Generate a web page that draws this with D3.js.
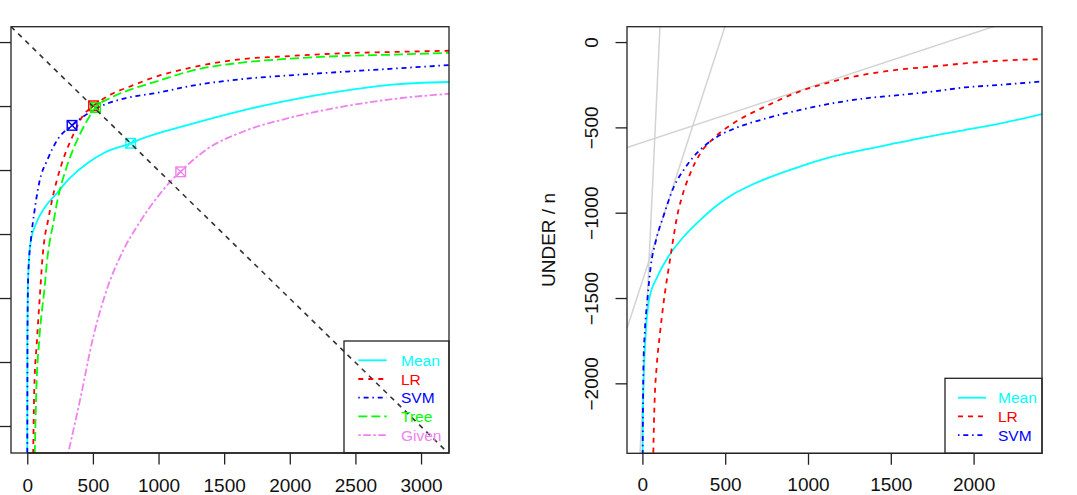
<!DOCTYPE html>
<html><head><meta charset="utf-8">
<script src="https://cdn.jsdelivr.net/npm/d3@7"></script>
<style>
body{margin:0;background:#fff}
svg{display:block}
text{font-family:"Liberation Sans",Arial,Helvetica,sans-serif}
</style>
</head><body>
<svg id="chart" width="1077" height="495"></svg>
<script>
// ---------------- DATA ----------------
const seriesNames = ["Mean", "LR", "SVM", "Tree", "Given"];
const leftXTicks = [0, 500, 1000, 1500, 2000, 2500, 3000];
const leftYTicks = [0, 500, 1000, 1500, 2000, 2500, 3000];
const rightXTicks = [0, 500, 1000, 1500, 2000];
const rightYTicks = [0, -500, -1000, -1500, -2000];
const rightYLabel = "UNDER / n";

// left panel curves
const leftMeanX = [0, 1, 4, 15, 28, 69, 130, 226, 318, 460, 587, 788, 859, 1240, 1621, 2002, 2383, 2765, 3213];
const leftMeanY = [-250, 700, 1050, 1328, 1453, 1586, 1703, 1820, 1930, 2055, 2135, 2209, 2240, 2357, 2461, 2547, 2615, 2666, 2688];
const leftLRX = [45, 53, 74, 99, 117, 130, 155, 194, 257, 346, 422, 505, 638, 790, 994, 1240, 1621, 2002, 2383, 2765, 3213];
const leftLRY = [-220, 281, 672, 1063, 1328, 1453, 1590, 1790, 2031, 2266, 2422, 2502, 2591, 2656, 2734, 2799, 2865, 2891, 2912, 2922, 2932];
const leftSVMX = [0, 2, 8, 28, 53, 91, 155, 232, 341, 554, 765, 994, 1240, 1621, 2002, 2383, 2765, 3213];
const leftSVMY = [-250, 800, 1195, 1459, 1666, 1901, 2084, 2240, 2349, 2495, 2565, 2604, 2656, 2709, 2740, 2766, 2791, 2820];
const leftTreeX = [57, 69, 91, 130, 155, 173, 194, 232, 295, 371, 447, 520, 638, 790, 994, 1240, 1621, 2002, 2383, 2765, 3213];
const leftTreeY = [-220, 281, 672, 1063, 1328, 1453, 1562, 1773, 2008, 2213, 2370, 2488, 2565, 2630, 2695, 2773, 2838, 2870, 2891, 2901, 2916];
const leftGivenX = [310, 402, 503, 605, 720, 859, 1011, 1126, 1169, 1240, 1367, 1621, 2002, 2383, 2765, 3213];
const leftGivenY = [-220, 203, 698, 1063, 1349, 1596, 1814, 1948, 1988, 2057, 2162, 2291, 2409, 2492, 2552, 2596];
// marked points on the left panel (Mean, LR, SVM, Tree, Given)
const markX = [788, 505, 341, 520, 1169];
const markY = [2209, 2502, 2349, 2488, 1986];
// reference diagonal on left panel: slope, intercept
const diagLine = [-1, 2996];

// right panel curves
const rightMeanX = [0, 2, 10, 20, 40, 90, 150, 249, 349, 449, 548, 648, 748, 947, 1147, 1346, 1545, 1745, 1945, 2144, 2413];
const rightMeanY = [-2700, -2300, -1903, -1708, -1512, -1376, -1268, -1141, -1043, -958, -892, -842, -800, -731, -672, -629, -590, -551, -516, -481, -422];
const rightLRX = [62, 66, 74, 86, 106, 130, 160, 185, 209, 239, 289, 349, 429, 548, 748, 947, 1147, 1346, 1545, 1745, 1945, 2144, 2413];
const rightLRY = [-2700, -2411, -2098, -1903, -1708, -1512, -1317, -1161, -1024, -907, -770, -653, -565, -477, -375, -290, -232, -190, -162, -144, -125, -110, -100];
const rightSVMX = [0, 3, 6, 14, 30, 50, 80, 130, 190, 249, 309, 369, 469, 548, 748, 947, 1147, 1346, 1545, 1745, 1945, 2144, 2413];
const rightSVMY = [-2700, -2200, -1903, -1708, -1512, -1317, -1170, -1012, -848, -750, -672, -614, -545, -510, -447, -399, -359, -330, -311, -291, -266, -252, -231];
// grey reference lines on right panel: [slope, intercept]
const greySlopes = [20.8, 2.99, 0.32];
const greyIntercepts = [-2115, -1400, -588];

// ---------------- STYLE ----------------
const colors = {Mean: "#00FFFF", LR: "#FF0000", SVM: "#0000FF", Tree: "#00FF00", Given: "#EE82EE"};
const dashes = {Mean: null, LR: "5,5", SVM: "1.5,3.8,5,3.8", Tree: "9,4", Given: "2.5,2.5,7.5,2.5"};
const FONT_AXIS = 19, FONT_LEG = 15.5, TICK = 11.5, LW = 1.8;

const svg = d3.select("#chart");

function panel(cfg) {
  const g = svg.append("g");
  const x = d3.scaleLinear().domain(cfg.xDomain).range([cfg.left, cfg.right]);
  const y = d3.scaleLinear().domain(cfg.yDomain).range([cfg.bottom, cfg.top]);
  const clipId = "clip" + cfg.id;
  svg.append("defs").append("clipPath").attr("id", clipId)
    .append("rect").attr("x", cfg.left).attr("y", cfg.top)
    .attr("width", cfg.right - cfg.left).attr("height", cfg.bottom - cfg.top);
  const plot = g.append("g").attr("clip-path", `url(#${clipId})`);
  return {g, x, y, plot, clipId};
}

function drawAxes(p, cfg, xTicks, yTicks, showYLabels) {
  const xa = d3.axisBottom(p.x).tickValues(xTicks).tickSize(TICK).tickFormat(d3.format("d"));
  const gx = p.g.append("g").attr("transform", `translate(0,${cfg.bottom})`).call(xa);
  gx.select(".domain").attr("d", `M${p.x(xTicks[0])},0H${p.x(xTicks[xTicks.length-1])}`).attr("stroke", "#222").attr("stroke-width", 1.3);
  gx.selectAll(".tick line").attr("stroke", "#222").attr("stroke-width", 1.3);
  gx.selectAll(".tick text").attr("font-size", FONT_AXIS).attr("fill", "#111")
    .attr("y", 491.5 - cfg.bottom).attr("dy", 0);
  const ya = d3.axisLeft(p.y).tickValues(yTicks).tickSize(TICK).tickFormat(d => d3.format("d")(d).replace("-", "\u2212"));
  const gy = p.g.append("g").attr("transform", `translate(${cfg.left},0)`).call(ya);
  gy.select(".domain").remove();
  gy.selectAll(".tick line").attr("stroke", "#222").attr("stroke-width", 1.3);
  if (showYLabels) {
    gy.selectAll(".tick text").attr("font-size", FONT_AXIS).attr("fill", "#111")
      .attr("text-anchor", "middle").attr("x", 0).attr("dy", 0)
      .attr("transform", function() { return `translate(${cfg.yLabelX - cfg.left},0) rotate(-90)`; });
  } else {
    gy.selectAll(".tick text").remove();
  }
  p.g.append("rect").attr("x", cfg.left).attr("y", cfg.top)
    .attr("width", cfg.right - cfg.left).attr("height", cfg.bottom - cfg.top)
    .attr("fill", "none").attr("stroke", "#222").attr("stroke-width", 1.3);
}

function drawSeries(p, name, xs, ys) {
  const pts = xs.map((v, i) => [v, ys[i]]);
  const line = d3.line().x(d => p.x(d[0])).y(d => p.y(d[1])).curve(d3.curveMonotoneX);
  p.plot.append("path").datum(pts).attr("d", line)
    .attr("fill", "none").attr("stroke", colors[name]).attr("stroke-width", LW)
    .attr("stroke-dasharray", dashes[name]);
}

function drawLegend(p, box, names) {
  const lg = p.g.append("g");
  lg.append("rect").attr("x", box.x0).attr("y", box.y0).attr("width", box.x1 - box.x0)
    .attr("height", box.y1 - box.y0).attr("fill", "none").attr("stroke", "#222").attr("stroke-width", 1.3);
  names.forEach((n, i) => {
    const yy = box.firstRow + i * box.rowStep;
    lg.append("line").attr("x1", box.segX0).attr("x2", box.segX1).attr("y1", yy).attr("y2", yy)
      .attr("stroke", colors[n]).attr("stroke-width", LW).attr("stroke-dasharray", dashes[n]);
    lg.append("text").attr("x", box.textX).attr("y", yy).attr("dy", "0.36em")
      .attr("font-size", FONT_LEG).attr("fill", colors[n]).text(n);
  });
  return lg;
}

// ---------------- LEFT PANEL ----------------
const Lcfg = {id: "L", left: 11, right: 449, top: 26.7, bottom: 453, xDomain: [-124, 3213], yDomain: [-211, 3120]};
const L = panel(Lcfg);
const leftSeries = {
  Mean: [leftMeanX, leftMeanY], LR: [leftLRX, leftLRY], SVM: [leftSVMX, leftSVMY],
  Tree: [leftTreeX, leftTreeY], Given: [leftGivenX, leftGivenY]
};
["Given", "Mean", "Tree", "LR", "SVM"].forEach(n => drawSeries(L, n, leftSeries[n][0], leftSeries[n][1]));
// markers
seriesNames.forEach((n, i) => {
  const cx = L.x(markX[i]), cy = L.y(markY[i]), h = 4.8;
  const mg = L.plot.append("g").attr("stroke", colors[n]).attr("stroke-width", 1.4).attr("fill", "none");
  mg.append("rect").attr("x", cx - h).attr("y", cy - h).attr("width", 2 * h).attr("height", 2 * h);
  mg.append("path").attr("d", `M${cx-h},${cy-h}L${cx+h},${cy+h}M${cx-h},${cy+h}L${cx+h},${cy-h}`);
});
drawLegend(L, {x0: 344, x1: 449, y0: 341, y1: 453, firstRow: 360.3, rowStep: 18.7, segX0: 358.3, segX1: 386.7, textX: 401}, seriesNames);
// diagonal (drawn over the legend, as in the reference)
{
  const xd = L.x.domain();
  L.plot.append("line")
    .attr("x1", L.x(xd[0])).attr("y1", L.y(diagLine[0] * xd[0] + diagLine[1]))
    .attr("x2", L.x(xd[1])).attr("y2", L.y(diagLine[0] * xd[1] + diagLine[1]))
    .attr("stroke", "#333").attr("stroke-width", 1.6).attr("stroke-dasharray", "5,5");
}
drawAxes(L, Lcfg, leftXTicks, leftYTicks, false);

// ---------------- RIGHT PANEL ----------------
const Rcfg = {id: "R", left: 627, right: 1042, top: 26.7, bottom: 453.3, xDomain: [-93, 2413], yDomain: [-2410, 90], yLabelX: 598};
const R = panel(Rcfg);
greySlopes.forEach((s, i) => {
  const xd = R.x.domain();
  R.plot.append("line")
    .attr("x1", R.x(xd[0])).attr("y1", R.y(s * xd[0] + greyIntercepts[i]))
    .attr("x2", R.x(xd[1])).attr("y2", R.y(s * xd[1] + greyIntercepts[i]))
    .attr("stroke", "#D3D3D3").attr("stroke-width", 1.5);
});
const rightSeries = {Mean: [rightMeanX, rightMeanY], LR: [rightLRX, rightLRY], SVM: [rightSVMX, rightSVMY]};
["Mean", "LR", "SVM"].forEach(n => drawSeries(R, n, rightSeries[n][0], rightSeries[n][1]));
drawLegend(R, {x0: 945, x1: 1042, y0: 378.3, y1: 453.3, firstRow: 397.7, rowStep: 18.7, segX0: 958, segX1: 986, textX: 998}, ["Mean", "LR", "SVM"]);
drawAxes(R, Rcfg, rightXTicks, rightYTicks, true);
svg.append("text").attr("transform", `translate(555,240) rotate(-90)`)
  .attr("text-anchor", "middle").attr("font-size", FONT_AXIS).attr("fill", "#111").text(rightYLabel);
</script>
</body></html>
